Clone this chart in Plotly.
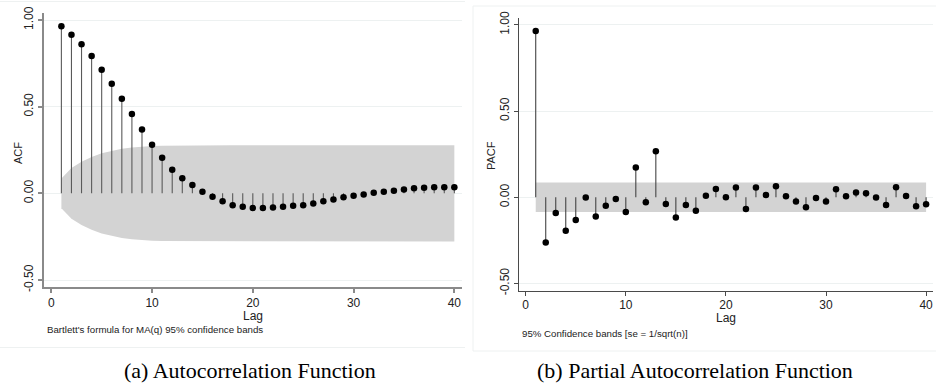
import plotly.graph_objects as go

# ---------------- data ----------------
lags = list(range(1, 41))

acf_values = [0.964, 0.915, 0.860, 0.792, 0.713, 0.632, 0.546, 0.458, 0.369, 0.280,
              0.205, 0.136, 0.087, 0.048, 0.010, -0.019, -0.046, -0.068, -0.077, -0.085,
              -0.085, -0.081, -0.077, -0.071, -0.068, -0.058, -0.046, -0.035, -0.023, -0.014,
              -0.006, 0.004, 0.009, 0.015, 0.023, 0.029, 0.032, 0.036, 0.036, 0.035]

# Bartlett 95% band half-width at each lag
acf_band = [0.086, 0.146, 0.183, 0.210, 0.231, 0.246, 0.257, 0.265, 0.270, 0.273,
            0.275, 0.276, 0.277, 0.277, 0.277, 0.277, 0.277, 0.278, 0.278, 0.278,
            0.278, 0.278, 0.278, 0.278, 0.278, 0.278, 0.278, 0.278, 0.278, 0.278,
            0.278, 0.278, 0.278, 0.278, 0.278, 0.278, 0.278, 0.278, 0.278, 0.278]

pacf_values = [0.965, -0.263, -0.091, -0.194, -0.132, -0.002, -0.112, -0.049, -0.010, -0.085,
               0.172, -0.029, 0.267, -0.039, -0.118, -0.045, -0.078, 0.009, 0.048, 0.000,
               0.056, -0.068, 0.056, 0.013, 0.064, 0.006, -0.025, -0.058, -0.004, -0.025,
               0.046, 0.006, 0.027, 0.023, -0.002, -0.045, 0.058, 0.008, -0.052, -0.041]

pacf_band = 0.086

x_ticks = [0, 10, 20, 30, 40]
y_ticks = [1.0, 0.5, 0.0, -0.5]
y_ticklabels = ["1.00", "0.50", "0.00", "-0.50"]

captions = ["(a) Autocorrelation Function", "(b) Partial Autocorrelation Function"]
notes = ["Bartlett's formula for MA(q) 95% confidence bands",
         "95% Confidence bands [se = 1/sqrt(n)]"]

# ---------------- figure ----------------
W, H = 936, 388
fig = go.Figure()

def stems(xs, ys):
    sx, sy = [], []
    for x, y in zip(xs, ys):
        sx += [x, x, None]
        sy += [0, y, None]
    return sx, sy

BAND = "#d3d3d3"

# ACF band
fig.add_trace(go.Scatter(
    x=lags + lags[::-1], y=acf_band + [-b for b in acf_band[::-1]],
    fill="toself", fillcolor=BAND, line=dict(width=0), mode="lines",
    hoverinfo="skip", showlegend=False, xaxis="x", yaxis="y"))
sx, sy = stems(lags, acf_values)
fig.add_trace(go.Scatter(x=sx, y=sy, mode="lines", line=dict(color="#5a5a5a", width=1.1),
                         showlegend=False, xaxis="x", yaxis="y"))
fig.add_trace(go.Scatter(x=lags, y=acf_values, mode="markers",
                         marker=dict(color="black", size=6.5), showlegend=False,
                         xaxis="x", yaxis="y"))

# PACF band
fig.add_trace(go.Scatter(
    x=[lags[0], lags[-1], lags[-1], lags[0]], y=[pacf_band, pacf_band, -pacf_band, -pacf_band],
    fill="toself", fillcolor=BAND, line=dict(width=0), mode="lines",
    hoverinfo="skip", showlegend=False, xaxis="x2", yaxis="y2"))
sx, sy = stems(lags, pacf_values)
fig.add_trace(go.Scatter(x=sx, y=sy, mode="lines", line=dict(color="#444444", width=1.1),
                         showlegend=False, xaxis="x2", yaxis="y2"))
fig.add_trace(go.Scatter(x=lags, y=pacf_values, mode="markers",
                         marker=dict(color="black", size=6.5), showlegend=False,
                         xaxis="x2", yaxis="y2"))

tickfont = dict(family="Liberation Sans, Arial, sans-serif", size=12, color="#222222")

def xax(domain, rng, color, width, anchor):
    return dict(domain=domain, range=rng, tickvals=x_ticks, ticks="outside", ticklen=4,
                tickcolor=color, tickwidth=width, showline=True, linecolor=color,
                linewidth=width, showgrid=False, zeroline=False, tickfont=tickfont,
                ticklabelstandoff=-1,
                automargin=False, anchor=anchor, fixedrange=True)

def yax(domain, rng, color, width, anchor):
    return dict(domain=domain, range=rng, tickvals=y_ticks, ticktext=y_ticklabels,
                tickangle=-90, ticks="outside", ticklen=4, tickcolor=color, tickwidth=width,
                showline=True, linecolor=color, linewidth=width, showgrid=True,
                gridcolor="#edf1f1", gridwidth=1, zeroline=False, tickfont=tickfont,
                automargin=False, anchor=anchor, fixedrange=True)

fig.update_layout(
    template="none",
    width=W, height=H,
    margin=dict(l=0, r=0, t=0, b=0, autoexpand=False),
    paper_bgcolor="white", plot_bgcolor="white",
    xaxis=xax([44 / W, 462 / W], [-0.725, 40.76], "#8a8a8a", 1.8, "y"),
    yaxis=yax([(H - 287.3) / H, (H - 13.3) / H], [-0.542, 1.039], "#8a8a8a", 1.8, "x"),
    xaxis2=xax([518.7 / W, 933 / W], [-0.70, 40.69], "#4a4a4a", 1.3, "y2"),
    yaxis2=yax([(H - 290.7) / H, (H - 18.3) / H], [-0.542, 1.038], "#4a4a4a", 1.3, "x2"),
)

txt = "Liberation Sans, Arial, sans-serif"

def ann(text, x, y, size, xanchor="center", angle=0, family=txt, color="#222222"):
    fig.add_annotation(text=text, x=x / W, y=1 - y / H, xref="paper", yref="paper",
                       xanchor=xanchor, yanchor="middle", showarrow=False, textangle=angle,
                       font=dict(family=family, size=size, color=color))

ann("ACF", 18, 153, 11, angle=-90)
ann("PACF", 491, 156, 11, angle=-90)
ann("Lag", 253, 315.5, 12)
ann("Lag", 726, 318, 12)
ann(notes[0], 45, 329.8, 9.7, xanchor="left")
ann(notes[1], 520, 333, 9.7, xanchor="left")
ann(captions[0], 250, 370, 22, family="Liberation Serif, Times New Roman, serif", color="black")
ann(captions[1], 695, 370, 22, family="Liberation Serif, Times New Roman, serif", color="black")

# faint panel frames
frame = dict(color="#eef1f1", width=1)
fig.add_shape(type="line", xref="paper", yref="paper", x0=0, x1=465 / W,
              y0=1 - 1.5 / H, y1=1 - 1.5 / H, line=frame)
fig.add_shape(type="line", xref="paper", yref="paper", x0=0, x1=465 / W,
              y0=1 - 347.5 / H, y1=1 - 347.5 / H, line=frame)
fig.add_shape(type="line", xref="paper", yref="paper", x0=473 / W, x1=1,
              y0=1 - 6 / H, y1=1 - 6 / H, line=frame)
fig.add_shape(type="line", xref="paper", yref="paper", x0=473 / W, x1=473 / W,
              y0=1 - 6 / H, y1=1 - 351 / H, line=frame)
fig.add_shape(type="line", xref="paper", yref="paper", x0=473 / W, x1=1,
              y0=1 - 351 / H, y1=1 - 351 / H, line=frame)

fig.write_html("out.html", config={"displayModeBar": False},
               post_script="document.body.style.margin='0';document.body.style.overflow='hidden';")
